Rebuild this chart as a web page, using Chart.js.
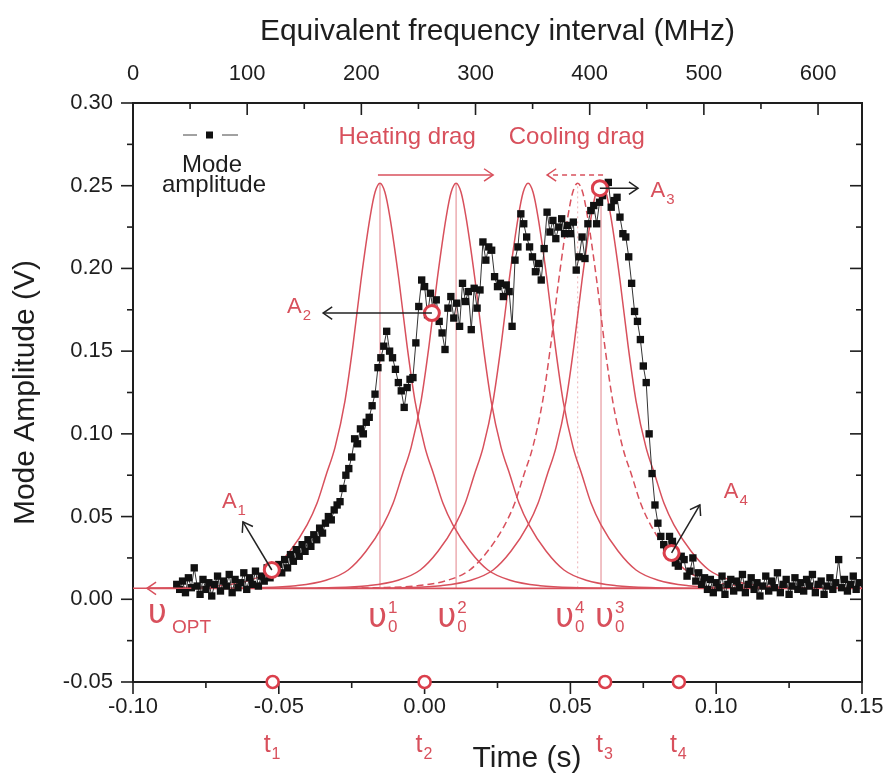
<!DOCTYPE html>
<html>
<head>
<meta charset="utf-8">
<script src="https://cdn.jsdelivr.net/npm/chart.js@4.4.1/dist/chart.umd.min.js"></script>
<style>
  body { margin: 0; background: #fff; }
  canvas { display: block; }
</style>
</head>
<body>
<canvas id="modeChart" width="888" height="774"></canvas>
<script>
// sampled mode amplitude, one sample per millisecond from t0
const sampleStart = -0.085;
const sampleStep = 0.001;
const modeAmplitude = [
  0.009, 0.006, 0.011, 0.004, 0.013, 0.007, 0.019, 0.008, 0.003, 0.012,
  0.006, 0.010, 0.002, 0.009, 0.014, 0.005, 0.011, 0.008, 0.015, 0.004,
  0.012, 0.007, 0.010, 0.016, 0.006, 0.013, 0.009, 0.017, 0.008, 0.014,
  0.011, 0.019, 0.013, 0.020, 0.016,
  0.021, 0.016, 0.024, 0.019, 0.027, 0.023, 0.030, 0.026, 0.033, 0.029,
  0.036, 0.032, 0.039, 0.036, 0.043, 0.040, 0.046, 0.050, 0.048, 0.054,
  0.057, 0.059, 0.067, 0.075, 0.079, 0.086, 0.097, 0.094, 0.103, 0.100,
  0.107, 0.110, 0.117, 0.124, 0.140, 0.146, 0.153, 0.162, 0.150, 0.146,
  0.139, 0.131, 0.126, 0.116, 0.128, 0.133, 0.134, 0.155, 0.177, 0.193,
  0.189, 0.172, 0.185, 0.174, 0.181, 0.168, 0.161, 0.151, 0.176, 0.183,
  0.170, 0.179, 0.165, 0.191, 0.180, 0.186, 0.163, 0.188, 0.176, 0.187,
  0.216, 0.205, 0.213, 0.211, 0.195, 0.189, 0.191, 0.183, 0.190, 0.186,
  0.165, 0.205, 0.213, 0.233, 0.227, 0.219, 0.213, 0.207, 0.198, 0.203,
  0.193, 0.212, 0.234, 0.222, 0.229, 0.218, 0.225, 0.230, 0.221, 0.226,
  0.221, 0.228, 0.199, 0.207, 0.219, 0.206, 0.227, 0.235, 0.238, 0.227,
  0.240, 0.244, 0.250, 0.252, 0.237, 0.241, 0.243, 0.231, 0.221, 0.219,
  0.207,
  0.191, 0.174, 0.168, 0.157, 0.141, 0.131, 0.100, 0.076, 0.057, 0.046,
  0.038, 0.033, 0.029, 0.038, 0.035, 0.022, 0.020, 0.026, 0.024, 0.014,
  0.017, 0.025, 0.011, 0.016, 0.009, 0.013, 0.006, 0.012, 0.004, 0.010,
  0.007, 0.014, 0.003, 0.009, 0.012, 0.005, 0.011, 0.007, 0.015, 0.004,
  0.009, 0.013, 0.006, 0.010, 0.002, 0.008, 0.014, 0.005, 0.011, 0.007,
  0.016, 0.004, 0.009, 0.012, 0.003, 0.008, 0.013, 0.006, 0.010, 0.005,
  0.012, 0.008, 0.015, 0.004, 0.009, 0.011, 0.003, 0.008, 0.013, 0.006,
  0.010, 0.024, 0.007, 0.012, 0.005, 0.009, 0.014, 0.006, 0.010
];

// resonance line shape (half profile, offset from centre in s)
const profileOffset = [0, 0.0017, 0.0034, 0.0065, 0.0093, 0.0120, 0.0154, 0.0185,
  0.0216, 0.0250, 0.0309, 0.0370, 0.0446, 0.0549, 0.0686, 0.0892];
const profileValue = [0.2515, 0.246, 0.231, 0.193, 0.153, 0.120, 0.092, 0.075,
  0.058, 0.045, 0.029, 0.0177, 0.0115, 0.0082, 0.0070, 0.0066];
const baselineLevel = 0.0066;

const resonanceCentres = [-0.0153, 0.0108, 0.0355, 0.0605];
const dashedCentre = 0.0525;
const markedCentres = [-0.0153, 0.0108, 0.0605];

const ringTimes = [-0.0524, 0.0025, 0.0601, 0.0847];
const ringValues = [0.0177, 0.173, 0.2485, 0.028];
const markerTimes = [-0.0521, 0.0, 0.0619, 0.0872];

const timeTicks = [-0.10, -0.05, 0.00, 0.05, 0.10, 0.15];
const ampTicks = [-0.05, 0.00, 0.05, 0.10, 0.15, 0.20, 0.25, 0.30];
const freqTicks = [0, 100, 200, 300, 400, 500, 600];
const freqMax = 638.5;

const red = '#d8505c';
const ringRed = '#db3f4c';
const ink = '#1e1e1e';
const sans = '"Liberation Sans", Arial, sans-serif';

const modePoints = modeAmplitude.map((v, i) => ({ x: sampleStart + i * sampleStep, y: v }));

function peakPoints(c) {
  const left = profileOffset.slice(1).reverse().map((o, i) =>
    ({ x: c - o, y: profileValue[profileOffset.length - 1 - i] }));
  const right = profileOffset.map((o, i) => ({ x: c + o, y: profileValue[i] }));
  return left.concat(right);
}

const datasets = [];
datasets.push({
  data: modePoints, showLine: true, borderColor: '#333', borderWidth: 1,
  pointStyle: 'rect', pointRadius: 5.2, pointBackgroundColor: '#111',
  pointBorderWidth: 0, order: 5
});
datasets.push({
  data: [{ x: -0.0952, y: baselineLevel }, { x: 0.15, y: baselineLevel }],
  showLine: true, borderColor: red, borderWidth: 1.6, pointRadius: 0, order: 9
});
resonanceCentres.forEach(c => datasets.push({
  data: peakPoints(c), showLine: true, borderColor: red, borderWidth: 1.5,
  pointRadius: 0, cubicInterpolationMode: 'monotone', order: 9
}));
datasets.push({
  data: peakPoints(dashedCentre), showLine: true, borderColor: red, borderWidth: 1.5,
  borderDash: [7, 4], pointRadius: 0, cubicInterpolationMode: 'monotone', order: 9
});
markedCentres.forEach(c => datasets.push({
  data: [{ x: c, y: baselineLevel }, { x: c, y: profileValue[0] }],
  showLine: true, borderColor: '#e2838b', borderWidth: 1, pointRadius: 0, order: 10
}));
datasets.push({
  data: [{ x: dashedCentre, y: baselineLevel }, { x: dashedCentre, y: profileValue[0] }],
  showLine: true, borderColor: '#eeb0b5', borderWidth: 1, borderDash: [2, 3],
  pointRadius: 0, order: 10
});
datasets.push({
  data: ringTimes.map((t, i) => ({ x: t, y: ringValues[i] })),
  showLine: false, pointStyle: 'circle', pointRadius: 7.5, pointBorderWidth: 3,
  pointBorderColor: ringRed, pointBackgroundColor: '#fff', order: 1
});
datasets.push({
  data: markerTimes.map(t => ({ x: t, y: -0.05 })),
  showLine: false, pointStyle: 'circle', pointRadius: 6, pointBorderWidth: 2.6,
  pointBorderColor: ringRed, pointBackgroundColor: '#fff', order: 1, clip: false
});

// frame and tick marks: left/bottom outward, top/right inward
const frameTicks = {
  id: 'frameTicks',
  beforeDatasetsDraw(chart) {
    const { ctx, chartArea: a, scales } = chart;
    const line = (x1, y1, x2, y2) => { ctx.beginPath(); ctx.moveTo(x1, y1); ctx.lineTo(x2, y2); ctx.stroke(); };
    ctx.save();
    ctx.strokeStyle = ink;
    ctx.lineWidth = 2;
    ctx.strokeRect(a.left, a.top, a.right - a.left, a.bottom - a.top);
    ctx.lineWidth = 1.6;
    for (let i = 0; i <= 10; i++) {
      const x = scales.x.getPixelForValue(-0.10 + i * 0.025);
      line(x, a.bottom, x, a.bottom + (i % 2 ? 6 : 12));
    }
    for (let i = 0; i <= 14; i++) {
      const y = scales.y.getPixelForValue(-0.05 + i * 0.025);
      const len = i % 2 ? 6 : 12;
      line(a.left - len, y, a.left, y);
      line(a.right - len, y, a.right, y);
    }
    for (let m = 0; m <= freqMax; m += 50) {
      const x = scales.x2.getPixelForValue(m);
      line(x, a.top, x, a.top + (m % 100 ? 6 : 12));
    }
    ctx.restore();
  }
};

function arrow(ctx, x1, y1, x2, y2, color, dash) {
  const ang = Math.atan2(y2 - y1, x2 - x1);
  const head = 11, spread = 0.6;
  ctx.save();
  ctx.strokeStyle = color;
  ctx.lineWidth = 1.5;
  ctx.setLineDash(dash || []);
  ctx.beginPath(); ctx.moveTo(x1, y1); ctx.lineTo(x2, y2); ctx.stroke();
  ctx.setLineDash([]);
  ctx.beginPath();
  ctx.moveTo(x2 - head * Math.cos(ang - spread), y2 - head * Math.sin(ang - spread));
  ctx.lineTo(x2, y2);
  ctx.lineTo(x2 - head * Math.cos(ang + spread), y2 - head * Math.sin(ang + spread));
  ctx.stroke();
  ctx.restore();
}

// text with optional sub/superscript after the main glyph
function scripted(ctx, x, y, main, mainFont, sub, sup, subFont, subDy, supDy) {
  ctx.font = mainFont;
  ctx.fillText(main, x, y);
  const w = ctx.measureText(main).width;
  ctx.font = subFont;
  if (sub) ctx.fillText(sub, x + w + 1, y + subDy);
  if (sup) ctx.fillText(sup, x + w + 1, y + supDy);
}

const annotations = {
  id: 'annotations',
  afterDraw(chart) {
    const { ctx, scales } = chart;
    const px = t => scales.x.getPixelForValue(t);
    const py = v => scales.y.getPixelForValue(v);
    ctx.save();
    ctx.textBaseline = 'alphabetic';

    // legend
    ctx.strokeStyle = '#444'; ctx.lineWidth = 1;
    ctx.beginPath(); ctx.moveTo(183, 135); ctx.lineTo(197, 135);
    ctx.moveTo(222, 135); ctx.lineTo(238, 135); ctx.stroke();
    ctx.fillStyle = '#111'; ctx.fillRect(206, 131.5, 7, 7);
    ctx.fillStyle = ink; ctx.textAlign = 'center';
    ctx.font = '24px ' + sans;
    ctx.fillText('Mode', 212, 172);
    ctx.fillText('amplitude', 214, 192);

    // drag directions
    ctx.fillStyle = red;
    ctx.font = '24px ' + sans;
    ctx.fillText('Heating drag', px(-0.0060), py(0.2755));
    ctx.fillText('Cooling drag', px(0.0522), py(0.2755));
    arrow(ctx, px(-0.016), py(0.2565), px(0.0235), py(0.2565), red);
    arrow(ctx, px(0.0612), py(0.2565), px(0.042), py(0.2565), red, [5, 4]);

    // ring callouts
    arrow(ctx, px(-0.0524), py(0.0177), px(-0.0623), py(0.0468), '#222');
    arrow(ctx, px(0.0025), py(0.173), px(-0.0348), py(0.173), '#222');
    arrow(ctx, px(0.0601), py(0.2485), px(0.0732), py(0.2485), '#222');
    arrow(ctx, px(0.0847), py(0.028), px(0.0944), py(0.057), '#222');
    arrow(ctx, px(-0.080), py(baselineLevel), px(-0.0952), py(baselineLevel), red);

    ctx.textAlign = 'left';
    ctx.fillStyle = red;
    const aFont = '22px ' + sans, sFont = '15px ' + sans;
    scripted(ctx, px(-0.0695), py(0.0552), 'A', aFont, '1', null, sFont, 7, 0);
    scripted(ctx, px(-0.0472), py(0.173), 'A', aFont, '2', null, sFont, 7, 0);
    scripted(ctx, px(0.0775), py(0.2433), 'A', aFont, '3', null, sFont, 7, 0);
    scripted(ctx, px(0.1026), py(0.0612), 'A', aFont, '4', null, sFont, 7, 0);

    // resonance labels
    const uFont = '33px "DejaVu Sans", sans-serif', uSub = '17px ' + sans;
    scripted(ctx, px(-0.0949), py(-0.0143), 'υ', uFont, null, null, uSub, 0, 0);
    ctx.font = '19px ' + sans;
    ctx.fillText('OPT', px(-0.0866), py(-0.0203));
    scripted(ctx, px(-0.0194), py(-0.0168), 'υ', uFont, '0', '1', uSub, 5, -14);
    scripted(ctx, px(0.0043), py(-0.0168), 'υ', uFont, '0', '2', uSub, 5, -14);
    scripted(ctx, px(0.0447), py(-0.0168), 'υ', uFont, '0', '4', uSub, 5, -14);
    scripted(ctx, px(0.0584), py(-0.0168), 'υ', uFont, '0', '3', uSub, 5, -14);

    // sweep instants under the time axis
    const base = chart.chartArea.bottom + 70;
    markerTimes.forEach((t, i) =>
      scripted(ctx, px(t) - 9, base, 't', '25px ' + sans, String(i + 1), null, '16px ' + sans, 7, 0));

    ctx.fillStyle = ink;
    ctx.textAlign = 'center';
    ctx.font = '30px ' + sans;
    ctx.fillText('Time (s)', px(0.0351), chart.chartArea.bottom + 85);
    ctx.restore();
  }
};

const tickFont = { family: sans, size: 22 };
const titleFont = { family: sans, size: 30 };
const noSidePad = s => { s.paddingLeft = 0; s.paddingRight = 0; };

new Chart(document.getElementById('modeChart'), {
  type: 'scatter',
  data: { datasets: datasets },
  options: {
    responsive: false,
    animation: false,
    layout: { padding: { left: 0, right: 26, top: 0, bottom: 0 } },
    plugins: { legend: { display: false }, tooltip: { enabled: false } },
    scales: {
      x: {
        type: 'linear', position: 'bottom', min: -0.10, max: 0.15,
        afterBuildTicks: s => { s.ticks = timeTicks.map(v => ({ value: v })); },
        afterFit: s => { s.height = 92; noSidePad(s); },
        grid: { display: false, drawTicks: false }, border: { display: false },
        ticks: { font: tickFont, color: ink, padding: 12, maxRotation: 0,
          callback: v => v.toFixed(2) }
      },
      x2: {
        type: 'linear', position: 'top', min: 0, max: freqMax,
        afterBuildTicks: s => { s.ticks = freqTicks.map(v => ({ value: v })); },
        afterFit: s => { s.height = 103; noSidePad(s); },
        grid: { display: false, drawTicks: false }, border: { display: false },
        ticks: { font: tickFont, color: ink, padding: 16, maxRotation: 0 },
        title: { display: true, text: 'Equivalent frequency interval (MHz)',
          font: titleFont, color: ink, padding: { top: 14, bottom: 0 } }
      },
      y: {
        type: 'linear', position: 'left', min: -0.05, max: 0.30,
        afterBuildTicks: s => { s.ticks = ampTicks.map(v => ({ value: v })); },
        afterFit: s => { s.width = 133; s.paddingTop = 0; s.paddingBottom = 0; },
        grid: { display: false, drawTicks: false }, border: { display: false },
        ticks: { font: tickFont, color: ink, padding: 20,
          callback: v => v.toFixed(2) },
        title: { display: true, text: 'Mode Amplitude (V)',
          font: titleFont, color: ink, padding: { top: 8, bottom: 0 } }
      }
    }
  },
  plugins: [frameTicks, annotations]
});
</script>
</body>
</html>
